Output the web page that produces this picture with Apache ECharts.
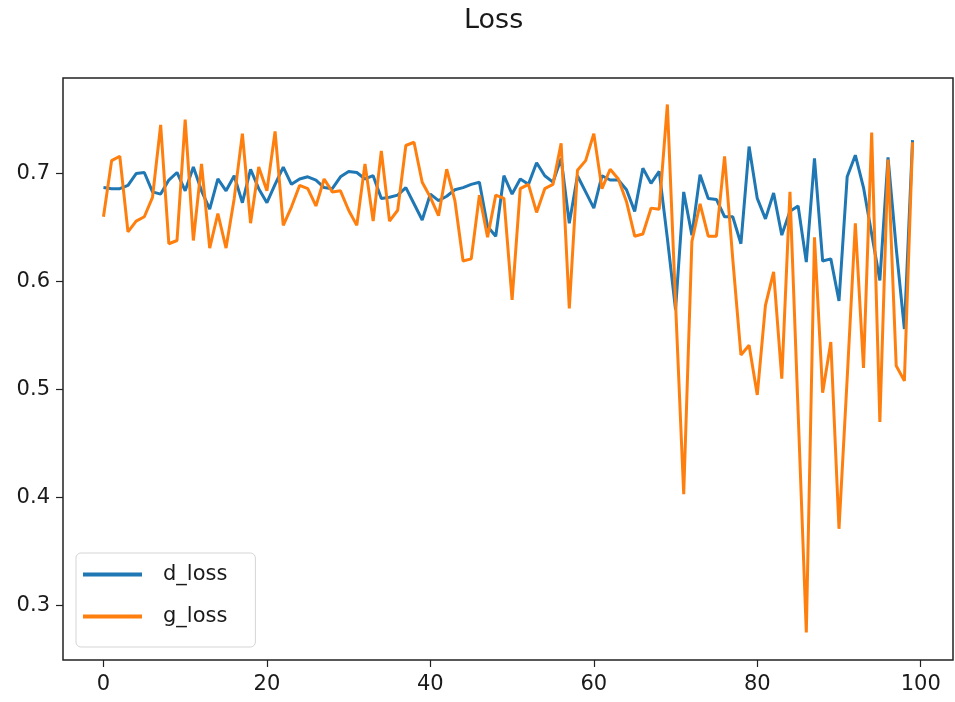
<!DOCTYPE html>
<html>
<head>
<meta charset="utf-8">
<title>Loss</title>
<script src="https://cdn.jsdelivr.net/npm/echarts@6/dist/echarts.min.js"></script>
<style>
  html, body { margin: 0; padding: 0; background: #fff; }
  #chart { width: 955px; height: 702px; }
</style>
</head>
<body>
<div id="chart"></div>
<script>
// values, one per epoch
const dLoss = [
  0.687, 0.686, 0.686, 0.689, 0.700, 0.701, 0.683, 0.681, 0.694, 0.701,
  0.684, 0.706, 0.684, 0.667, 0.695, 0.684, 0.698, 0.673, 0.704, 0.686,
  0.673, 0.690, 0.706, 0.690, 0.695, 0.697, 0.694, 0.687, 0.686, 0.697,
  0.702, 0.701, 0.695, 0.698, 0.677, 0.678, 0.680, 0.687, 0.672, 0.657,
  0.681, 0.675, 0.679, 0.685, 0.687, 0.690, 0.692, 0.651, 0.642, 0.698,
  0.681, 0.695, 0.690, 0.710, 0.698, 0.692, 0.714, 0.654, 0.698, 0.683,
  0.668, 0.698, 0.694, 0.694, 0.685, 0.665, 0.705, 0.691, 0.702, 0.640,
  0.574, 0.683, 0.643, 0.699, 0.677, 0.676, 0.660, 0.660, 0.635, 0.725,
  0.677, 0.658, 0.682, 0.643, 0.665, 0.670, 0.618, 0.714, 0.619, 0.621,
  0.582, 0.697, 0.717, 0.687, 0.644, 0.601, 0.715, 0.631, 0.556, 0.731
];
const gLoss = [
  0.660, 0.712, 0.716, 0.646, 0.656, 0.660, 0.678, 0.745, 0.635, 0.638,
  0.750, 0.638, 0.709, 0.631, 0.663, 0.631, 0.677, 0.737, 0.654, 0.706,
  0.684, 0.739, 0.652, 0.669, 0.689, 0.686, 0.670, 0.695, 0.683, 0.684,
  0.666, 0.652, 0.709, 0.656, 0.721, 0.656, 0.666, 0.726, 0.729, 0.692,
  0.678, 0.661, 0.704, 0.675, 0.619, 0.621, 0.680, 0.641, 0.680, 0.677,
  0.583, 0.686, 0.690, 0.664, 0.686, 0.690, 0.728, 0.575, 0.703, 0.712,
  0.737, 0.686, 0.704, 0.695, 0.674, 0.642, 0.644, 0.668, 0.667, 0.764,
  0.580, 0.403, 0.637, 0.672, 0.642, 0.642, 0.716, 0.621, 0.532, 0.541,
  0.495, 0.578, 0.609, 0.510, 0.683, 0.479, 0.275, 0.641, 0.497, 0.544,
  0.371, 0.510, 0.654, 0.520, 0.738, 0.470, 0.713, 0.522, 0.508, 0.729
];
const xTicks = [0, 20, 40, 60, 80, 100];
const yTicks = [0.3, 0.4, 0.5, 0.6, 0.7];

const fontFamily = 'DejaVu Sans';
const tickColor = '#222';
const textColor = '#1a1a1a';

function toPairs(values) {
  return values.map((v, i) => [i, v]);
}

const chart = echarts.init(document.getElementById('chart'));
chart.setOption({
  animation: false,
  backgroundColor: '#fff',
  textStyle: { fontFamily: fontFamily },
  title: {
    text: 'Loss',
    left: 459,
    top: 2,
    textStyle: { fontSize: 27, fontWeight: 'normal', color: textColor, fontFamily: fontFamily }
  },
  // matplotlib style box around the plot
  grid: {
    left: 63,
    right: 2,
    top: 78,
    bottom: 42,
    show: true,
    borderColor: '#222',
    borderWidth: 1.5,
    containLabel: false
  },
  legend: {
    orient: 'vertical',
    left: 76,
    top: 553,
    padding: [11, 28, 20, 7],
    itemGap: 21,
    itemWidth: 59,
    itemHeight: 4,
    icon: 'rect',
    borderColor: '#d5d5d5',
    borderWidth: 1,
    borderRadius: 5,
    backgroundColor: 'rgba(255,255,255,0.8)',
    textStyle: { fontSize: 21, color: textColor, padding: [2, 0, 0, 16], fontFamily: fontFamily },
    data: ['d_loss', 'g_loss']
  },
  xAxis: {
    type: 'value',
    min: -4.95,
    max: 103.95,
    splitLine: { show: false },
    axisLine: { show: false, onZero: false },
    axisTick: { show: true, length: 7, customValues: xTicks, lineStyle: { color: tickColor, width: 1.2 } },
    axisLabel: { customValues: xTicks, margin: 14, fontSize: 21, color: textColor }
  },
  yAxis: {
    type: 'value',
    min: 0.2495,
    max: 0.7885,
    splitLine: { show: false },
    axisLine: { show: false, onZero: false },
    axisTick: { show: true, length: 7, customValues: yTicks, lineStyle: { color: tickColor, width: 1.2 } },
    axisLabel: { customValues: yTicks, margin: 13, fontSize: 21, color: textColor, formatter: (v) => v.toFixed(1) }
  },
  series: [
    {
      name: 'd_loss',
      type: 'line',
      showSymbol: false,
      color: '#1f77b4',
      lineStyle: { width: 3 },
      data: toPairs(dLoss)
    },
    {
      name: 'g_loss',
      type: 'line',
      showSymbol: false,
      color: '#ff7f0e',
      lineStyle: { width: 3 },
      data: toPairs(gLoss)
    }
  ]
});
</script>
</body>
</html>
